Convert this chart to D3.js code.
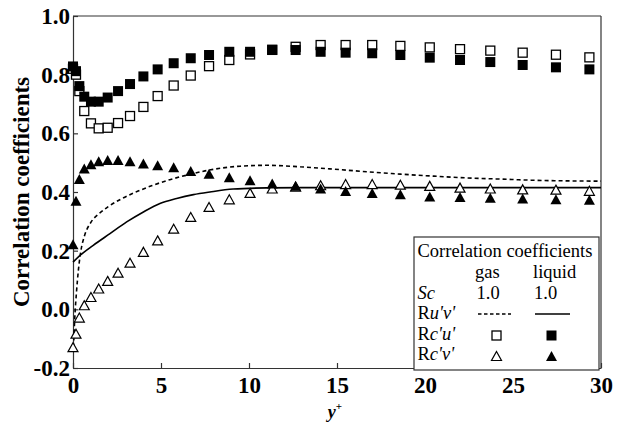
<!DOCTYPE html>
<html>
<head>
<meta charset="utf-8">
<script src="https://cdn.jsdelivr.net/npm/d3@7"></script>
<style>
  html, body { margin: 0; padding: 0; background: #fff; }
  svg { display: block; }
  .serif { font-family: "Liberation Serif", "Tinos", "Times New Roman", "Times", "DejaVu Serif", serif; }
</style>
</head>
<body>
<svg id="chart" width="621" height="424"></svg>
<script>
// ---------- data ----------
const yPlus = [0, 0.17, 0.36, 0.64, 1.02, 1.46, 1.97, 2.56, 3.24, 4.0, 4.81, 5.72, 6.69, 7.73,
  8.88, 10.06, 11.32, 12.65, 14.07, 15.49, 17.0, 18.6, 20.27, 21.99, 23.71, 25.55, 27.44, 29.34];
const rcuGas = [0.82, 0.80, 0.744, 0.676, 0.634, 0.617, 0.619, 0.635, 0.659, 0.690, 0.727, 0.763, 0.797, 0.829,
  0.850, 0.869, 0.885, 0.895, 0.901, 0.901, 0.901, 0.898, 0.893, 0.887, 0.882, 0.875, 0.868, 0.859];
const rcuLiquid = [0.828, 0.812, 0.761, 0.725, 0.708, 0.708, 0.722, 0.744, 0.768, 0.794, 0.818, 0.839, 0.856, 0.867,
  0.878, 0.878, 0.884, 0.884, 0.878, 0.875, 0.873, 0.867, 0.858, 0.850, 0.843, 0.833, 0.825, 0.818];
const rcvGas = [-0.129, -0.083, -0.028, 0.014, 0.042, 0.071, 0.097, 0.125, 0.159, 0.196, 0.235, 0.275, 0.315, 0.349,
  0.375, 0.397, 0.412, 0.418, 0.423, 0.427, 0.427, 0.425, 0.421, 0.415, 0.412, 0.409, 0.408, 0.404];
const rcvLiquid = [0.222, 0.370, 0.444, 0.480, 0.495, 0.505, 0.509, 0.509, 0.505, 0.497, 0.491, 0.484, 0.472, 0.462,
  0.450, 0.440, 0.429, 0.421, 0.412, 0.403, 0.397, 0.392, 0.385, 0.383, 0.380, 0.378, 0.375, 0.374];

const ruvGasX = [0.03, 0.1, 0.2, 0.3, 0.45, 0.65, 1.0, 1.5, 2.0, 2.7, 3.5, 4.5, 5.5, 6.5, 7.5, 8.5, 9.5, 11.0,
  12.9, 14.8, 16.7, 18.6, 20.5, 22.4, 24.3, 26.2, 28.05, 30];
const ruvGasY = [-0.13, -0.03, 0.06, 0.13, 0.20, 0.25, 0.295, 0.327, 0.350, 0.375, 0.398, 0.422, 0.442, 0.458, 0.472, 0.482, 0.488, 0.491,
  0.486, 0.478, 0.469, 0.461, 0.454, 0.448, 0.444, 0.440, 0.438, 0.437];
const ruvLiqX = [0, 0.4, 1.15, 2.1, 3.05, 4.0, 4.94, 5.89, 6.84, 7.78, 9.1, 11.0, 13.0, 16, 20, 25, 30];
const ruvLiqY = [0.161, 0.184, 0.218, 0.258, 0.298, 0.332, 0.361, 0.378, 0.391, 0.400, 0.410, 0.414, 0.415, 0.415, 0.415, 0.415, 0.415];

const xTicks = [0, 5, 10, 15, 20, 25, 30];
const yTicks = [-0.2, 0.0, 0.2, 0.4, 0.6, 0.8, 1.0];

// ---------- layout ----------
const svg = d3.select("#chart");
const L = 73, R = 601, T = 16, B = 368;
const x = d3.scaleLinear().domain([0, 30]).range([L, R]);
const y = d3.scaleLinear().domain([-0.2, 1.0]).range([B, T]);
const axisColor = "#333";

// frame (top & right)
svg.append("line").attr("x1", x(0)).attr("x2", x(30)).attr("y1", y(1.0)).attr("y2", y(1.0))
  .attr("stroke", axisColor).attr("stroke-width", 1.2);
svg.append("line").attr("x1", x(30)).attr("x2", x(30)).attr("y1", y(1.0)).attr("y2", y(-0.2))
  .attr("stroke", axisColor).attr("stroke-width", 1.2);

// axes
const gx = svg.append("g").attr("transform", `translate(0,${B})`)
  .call(d3.axisBottom(x).tickValues(xTicks).tickFormat(d3.format("d")).tickSizeInner(-5).tickSizeOuter(0).tickPadding(9));
const gy = svg.append("g").attr("transform", `translate(${L},0)`)
  .call(d3.axisLeft(y).tickValues(yTicks).tickFormat(d => d3.format(".1f")(d).replace("−", "-")).tickSizeInner(-5).tickSizeOuter(0).tickPadding(3));
[gx, gy].forEach(g => {
  g.attr("font-family", null).attr("font-size", null);
  g.select(".domain").attr("stroke", axisColor).attr("stroke-width", 1.2);
  g.selectAll(".tick line").attr("stroke", axisColor).attr("stroke-width", 1.2);
  g.selectAll(".tick text").attr("class", "serif").style("font-weight", "bold")
    .style("font-size", "23px").attr("fill", "#000");
});

// axis titles
svg.append("text").attr("class", "serif").attr("transform", `translate(28.5,${(T + B) / 2}) rotate(-90)`)
  .attr("text-anchor", "middle").style("font-weight", "bold")
  .style("font-size", "23px").text("Correlation coefficients");
const xl = svg.append("text").attr("class", "serif").attr("x", (L + R) / 2 - 2).attr("y", 418).attr("text-anchor", "middle")
  .style("font-weight", "bold").style("font-size", "18px");
xl.append("tspan").style("font-style", "italic").text("y");
xl.append("tspan").attr("dy", -8).style("font-size", "11px").text("+");

// ---------- lines ----------
const lineGen = d3.line().x(d => x(d[0])).y(d => y(d[1])).curve(d3.curveMonotoneX);
svg.append("path").datum(d3.zip(ruvGasX, ruvGasY)).attr("d", lineGen)
  .attr("fill", "none").attr("stroke", "#000").attr("stroke-width", 1.6).attr("stroke-dasharray", "4,3");
svg.append("path").datum(d3.zip(ruvLiqX, ruvLiqY)).attr("d", lineGen)
  .attr("fill", "none").attr("stroke", "#000").attr("stroke-width", 1.6);

// ---------- markers ----------
function square(g, cx, cy, filled) {
  const s = filled ? 10 : 9;
  g.append("rect").attr("x", cx - s / 2).attr("y", cy - s / 2).attr("width", s).attr("height", s)
    .attr("fill", filled ? "#000" : "#fff").attr("stroke", "#000").attr("stroke-width", filled ? 0 : 1.3);
}
function tri(g, cx, cy, filled) {
  const w = filled ? 11 : 10, h = filled ? 10 : 9;
  g.append("path").attr("d", `M${cx},${cy - h / 2}L${cx + w / 2},${cy + h / 2}L${cx - w / 2},${cy + h / 2}Z`)
    .attr("fill", filled ? "#000" : "#fff").attr("stroke", "#000").attr("stroke-width", filled ? 0 : 1.2);
}
const mk = svg.append("g");
yPlus.forEach((xv, i) => tri(mk, x(xv), y(rcvGas[i]), false));
yPlus.forEach((xv, i) => tri(mk, x(xv), y(rcvLiquid[i]), true));
yPlus.forEach((xv, i) => square(mk, x(xv), y(rcuGas[i]), false));
yPlus.forEach((xv, i) => square(mk, x(xv), y(rcuLiquid[i]), true));

// ---------- legend ----------
const lg = svg.append("g");
const lx0 = 414, ly0 = 237, lw = 185, lh = 133;
lg.append("rect").attr("x", lx0).attr("y", ly0).attr("width", lw).attr("height", lh)
  .attr("fill", "#fff").attr("stroke", axisColor).attr("stroke-width", 1.2);
const col0 = 417.5, col1 = 475, col2 = 533;
const rows = [256.5, 278, 298.5, 318.5, 340, 360];
function lt(xp, yp, parts) {
  const t = lg.append("text").attr("class", "serif").attr("x", xp).attr("y", yp).style("font-size", "18.5px").attr("fill", "#000");
  parts.forEach(p => t.append("tspan").style("font-style", p[1] ? "italic" : "normal").text(p[0]));
}
lt(col0, rows[0], [["Correlation coefficients", false]]);
lt(col1, rows[1], [["gas", false]]);
lt(col2, rows[1], [["liquid", false]]);
lt(col0, rows[2], [["Sc", true]]);
lt(col1 + 1.5, rows[2], [["1.0", false]]);
lt(col2 + 1, rows[2], [["1.0", false]]);
lt(col0, rows[3], [["R", false], ["u'v'", true]]);
lt(col0, rows[4], [["R", false], ["c'u'", true]]);
lt(col0, rows[5], [["R", false], ["c'v'", true]]);
lg.append("line").attr("x1", 478).attr("x2", 511).attr("y1", 314).attr("y2", 314)
  .attr("stroke", "#000").attr("stroke-width", 1.6).attr("stroke-dasharray", "3.5,2.5");
lg.append("line").attr("x1", 535).attr("x2", 570).attr("y1", 314).attr("y2", 314)
  .attr("stroke", "#000").attr("stroke-width", 1.6);
square(lg, 496.5, 335.5, false);
square(lg, 551.5, 335.5, true);
tri(lg, 496.5, 356, false);
tri(lg, 551.5, 356, true);
</script>
</body>
</html>
